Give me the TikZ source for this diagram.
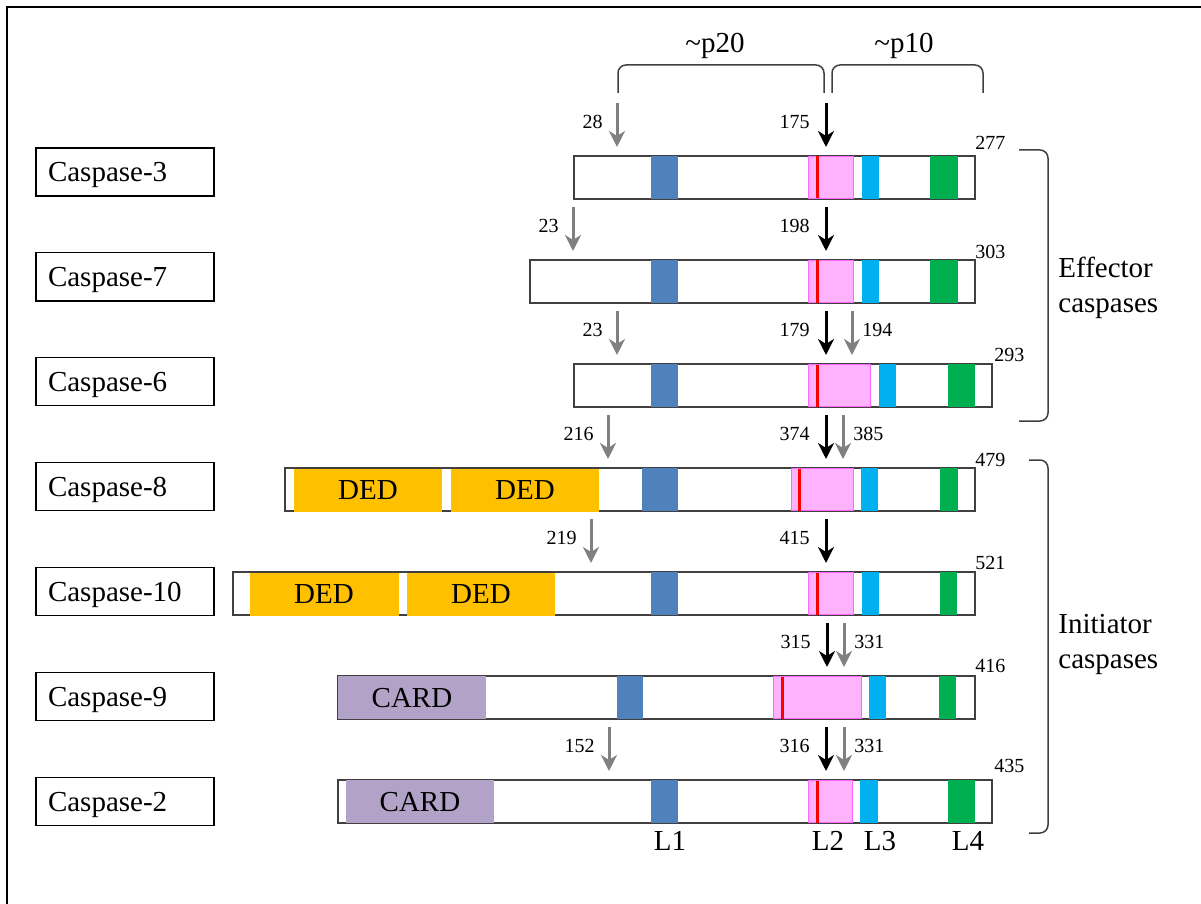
\documentclass[tikz,border=0pt]{standalone}
\usepackage{fontspec}
\setmainfont{LiberationSerif}[Extension=.ttf,UprightFont=*-Regular,BoldFont=*-Bold,ItalicFont=*-Italic]
\usetikzlibrary{arrows.meta}

\definecolor{loopone}{HTML}{4F81BD}
\definecolor{looptwo}{HTML}{FFB3FF}
\definecolor{looptwoedge}{HTML}{FF66FF}
\definecolor{loopthree}{HTML}{00B0F0}
\definecolor{loopfour}{HTML}{00B050}
\definecolor{dedcol}{HTML}{FFC000}
\definecolor{cardcol}{HTML}{B3A2C7}
\definecolor{cutgray}{HTML}{808080}
\definecolor{outline}{HTML}{404040}

% one cleavage arrow: name, style, x position (row-local coordinates)
\newcommand\cutat[3]{%
  \coordinate (#1-from) at (#3,-53);
  \coordinate (#1-to) at (#3,-9);
  \draw[#2] (#1-from) -- (#1-to);}

\begin{document}
\begin{tikzpicture}[x=0.5pt,y=-0.5pt,
  baredge/.style={draw=outline,line width=0.75pt,fill=white},
  lone/.style={fill=loopone},
  ltwo/.style={fill=looptwo,draw=looptwoedge,line width=0.5pt},
  site/.style={fill=red},
  lthree/.style={fill=loopthree},
  lfour/.style={fill=loopfour},
  ded/.style={fill=dedcol},
  card/.style={fill=cardcol},
  bigtext/.style={font=\fontsize{14.5}{17}\selectfont,inner sep=0pt},
  domtext/.style={bigtext,text depth=0pt},
  namebox/.style={draw=black,line width=0.6pt,minimum height=24pt,
    text width=77pt,inner xsep=6pt,inner ysep=0pt,align=left,text depth=0pt,
    font=\fontsize{14.5}{17}\selectfont},
  cutarrow/.style={line width=1.5pt,-{Stealth[length=8pt,width=8pt,inset=2.5pt]}},
  major/.style={cutarrow,draw=black},
  minor/.style={cutarrow,draw=cutgray},
  resnum/.style={font=\fontsize{10}{12}\selectfont,inner sep=0pt},
  bracket/.style={draw=outline,line width=0.75pt,rounded corners=4pt},
]
\useasboundingbox (0,0) rectangle (1201,904);

% frame
\draw[line width=1.35pt] (7,904) -- (7,7) -- (1201,7);

% names
\node[namebox] (n3)  at (125,172)   {Caspase-3};
\node[namebox] (n7)  at (125,276.9) {Caspase-7};
\node[namebox] (n6)  at (125,381.8) {Caspase-6};
\node[namebox] (n8)  at (125,486.7) {Caspase-8};
\node[namebox] (n10) at (125,591.6) {Caspase-10};
\node[namebox] (n9)  at (125,696.5) {Caspase-9};
\node[namebox] (n2)  at (125,801.4) {Caspase-2};

% p20 / p10 brackets
\draw[bracket] (618,93) -- (618,65) -- (824,65) -- (824,93);
\draw[bracket] (832,93) -- (832,65) -- (983,65) -- (983,93);
\node[bigtext,anchor=base] (p20) at (715,53) {\textasciitilde p20};
\node[bigtext,anchor=base] (p10) at (904,53) {\textasciitilde p10};

% Caspase-3
\begin{scope}[yshift=-78pt]
  \draw[baredge] (574,0) rectangle (975,43);
  \fill[lone] (651,0) rectangle (678,43);
  \draw[ltwo] (808,0.5) rectangle (853,42.5);
  \fill[site] (816,0.5) rectangle (819,42.5);
  \fill[lthree] (862,0) rectangle (879,43);
  \fill[lfour] (930,0) rectangle (958,43);
  \cutat{c3a}{minor}{617}
  \cutat{c3b}{major}{826}
  \node[resnum,anchor=east] (c3al) at (603,-34) {28};
  \node[resnum,anchor=east] (c3bl) at (810,-34) {175};
  \node[resnum,anchor=west] (c3e) at (975,-13) {277};
\end{scope}

% Caspase-7
\begin{scope}[yshift=-130pt]
  \draw[baredge] (530,0) rectangle (975,43);
  \fill[lone] (651,0) rectangle (678,43);
  \draw[ltwo] (808,0.5) rectangle (853,42.5);
  \fill[site] (816,0.5) rectangle (819,42.5);
  \fill[lthree] (862,0) rectangle (879,43);
  \fill[lfour] (930,0) rectangle (958,43);
  \cutat{c7a}{minor}{573}
  \cutat{c7b}{major}{826}
  \node[resnum,anchor=east] (c7al) at (559,-34) {23};
  \node[resnum,anchor=east] (c7bl) at (810,-34) {198};
  \node[resnum,anchor=west] (c7e) at (975,-8) {303};
\end{scope}

% Caspase-6
\begin{scope}[yshift=-182pt]
  \draw[baredge] (574,0) rectangle (992,43);
  \fill[lone] (651,0) rectangle (678,43);
  \draw[ltwo] (808,0.5) rectangle (870,42.5);
  \fill[site] (816,0.5) rectangle (819,42.5);
  \fill[lthree] (879,0) rectangle (896,43);
  \fill[lfour] (948,0) rectangle (975,43);
  \cutat{c6a}{minor}{617}
  \cutat{c6b}{major}{826}
  \cutat{c6c}{minor}{852}
  \node[resnum,anchor=east] (c6al) at (603,-34) {23};
  \node[resnum,anchor=east] (c6bl) at (810,-34) {179};
  \node[resnum,anchor=west] (c6cl) at (862,-34) {194};
  \node[resnum,anchor=west] (c6e) at (994,-9) {293};
\end{scope}

% Caspase-8
\begin{scope}[yshift=-234pt]
  \draw[baredge] (285,0) rectangle (975,43);
  \fill[ded] (294,1) rectangle (442,44);
  \fill[ded] (451,1) rectangle (599,44);
  \node[domtext] (d8a) at (368,22) {DED};
  \node[domtext] (d8b) at (525,22) {DED};
  \fill[lone] (642,0) rectangle (678,43);
  \draw[ltwo] (791,0.5) rectangle (853,42.5);
  \fill[site] (798,0.5) rectangle (801,42.5);
  \fill[lthree] (861,0) rectangle (878,43);
  \fill[lfour] (940,0) rectangle (958,43);
  \cutat{c8a}{minor}{608}
  \cutat{c8b}{major}{826}
  \cutat{c8c}{minor}{843}
  \node[resnum,anchor=east] (c8al) at (594,-34) {216};
  \node[resnum,anchor=east] (c8bl) at (810,-34) {374};
  \node[resnum,anchor=west] (c8cl) at (853,-34) {385};
  \node[resnum,anchor=west] (c8e) at (975,-8) {479};
\end{scope}

% Caspase-10
\begin{scope}[yshift=-286pt]
  \draw[baredge] (233,0) rectangle (975,43);
  \fill[ded] (250,1) rectangle (399,44);
  \fill[ded] (407,1) rectangle (555,44);
  \node[domtext] (d10a) at (324,22) {DED};
  \node[domtext] (d10b) at (481,22) {DED};
  \fill[lone] (651,0) rectangle (678,43);
  \draw[ltwo] (808,0.5) rectangle (853,42.5);
  \fill[site] (816,0.5) rectangle (819,42.5);
  \fill[lthree] (862,0) rectangle (879,43);
  \fill[lfour] (940,0) rectangle (957,43);
  \cutat{c10a}{minor}{591}
  \cutat{c10b}{major}{826}
  \node[resnum,anchor=east] (c10al) at (577,-34) {219};
  \node[resnum,anchor=east] (c10bl) at (810,-34) {415};
  \node[resnum,anchor=west] (c10e) at (975,-9) {521};
\end{scope}

% Caspase-9
\begin{scope}[yshift=-338pt]
  \draw[baredge] (338,0) rectangle (975,43);
  \fill[card] (338,0.4) rectangle (486,43);
  \node[domtext] (k9) at (412,22) {CARD};
  \fill[lone] (617,0) rectangle (643,43);
  \draw[ltwo] (773,0.5) rectangle (861,42.5);
  \fill[site] (781,0.5) rectangle (784,42.5);
  \fill[lthree] (869,0) rectangle (886,43);
  \fill[lfour] (939,0) rectangle (956,43);
  \cutat{c9b}{major}{827}
  \cutat{c9c}{minor}{844}
  \node[resnum,anchor=east] (c9bl) at (811,-34) {315};
  \node[resnum,anchor=west] (c9cl) at (854,-34) {331};
  \node[resnum,anchor=west] (c9e) at (975,-10) {416};
\end{scope}

% Caspase-2
\begin{scope}[yshift=-390pt]
  \draw[baredge] (338,0) rectangle (992,43);
  \fill[card] (346,0.4) rectangle (494,43);
  \node[domtext] (k2) at (420,22) {CARD};
  \fill[lone] (651,0) rectangle (678,43);
  \draw[ltwo] (808,0.5) rectangle (852,42.5);
  \fill[site] (816,0.5) rectangle (819,42.5);
  \fill[lthree] (860,0) rectangle (878,43);
  \fill[lfour] (948,0) rectangle (975,43);
  \cutat{c2a}{minor}{609}
  \cutat{c2b}{major}{826}
  \cutat{c2c}{minor}{844}
  \node[resnum,anchor=east] (c2al) at (595,-34) {152};
  \node[resnum,anchor=east] (c2bl) at (810,-34) {316};
  \node[resnum,anchor=west] (c2cl) at (854,-34) {331};
  \node[resnum,anchor=west] (c2e) at (994,-14) {435};
\end{scope}

% loop labels
\node[bigtext,anchor=base] (l1) at (670,850) {L1};
\node[bigtext,anchor=base] (l2) at (828,850) {L2};
\node[bigtext,anchor=base] (l3) at (880,850) {L3};
\node[bigtext,anchor=base] (l4) at (968,850) {L4};

% caspase classes
\draw[bracket] (1019,150) -- (1048,150) -- (1048,421) -- (1019,421);
\draw[bracket] (1029,460) -- (1048,460) -- (1048,833) -- (1029,833);
\node[bigtext,anchor=base west] (ef1) at (1058,278) {Effector};
\node[bigtext,anchor=base west] (ef2) at (1058,313) {caspases};
\node[bigtext,anchor=base west] (in1) at (1058,633) {Initiator};
\node[bigtext,anchor=base west] (in2) at (1058,668) {caspases};
\end{tikzpicture}
\end{document}
